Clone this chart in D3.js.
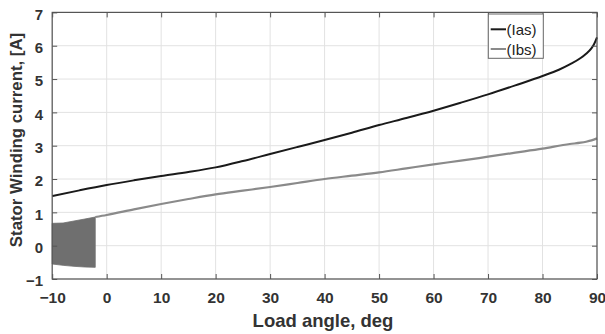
<!DOCTYPE html>
<html><head><meta charset="utf-8">
<script src="https://cdn.jsdelivr.net/npm/d3@7"></script>
<style>body{margin:0;background:#fff}svg{display:block}</style>
</head><body>
<script>
const xTicks = [-10,0,10,20,30,40,50,60,70,80,90];
const yTicks = [-1,0,1,2,3,4,5,6,7];
const seriesNames = ["(Ias)","(Ibs)"];
const iasAngle = [-10,-5,0,5,10,15,20,25,30,35,40,45,50,55,60,65,70,75,80,83,85,87,88,89,89.5,90];
const iasValue = [1.49,1.66,1.82,1.96,2.09,2.21,2.35,2.54,2.75,2.96,3.17,3.39,3.62,3.83,4.05,4.29,4.54,4.81,5.09,5.28,5.44,5.63,5.76,5.93,6.06,6.25];
const ibsAngle = [-2.1,0,5,10,15,20,25,30,35,40,45,50,55,60,65,70,75,80,85,87,88,89,90];
const ibsValue = [0.86,0.92,1.09,1.25,1.40,1.54,1.65,1.76,1.88,2.00,2.10,2.20,2.32,2.44,2.55,2.67,2.79,2.91,3.05,3.09,3.12,3.16,3.22];
const bandAngle = [-10,-8,-6,-4,-2.1];
const bandUpper = [0.67,0.68,0.74,0.80,0.86];
const bandLower = [-0.55,-0.59,-0.62,-0.64,-0.65];

const W=605,H=334;
const svg=d3.select("body").append("svg").attr("width",W).attr("height",H);
const x=d3.scaleLinear().domain([-10,90]).range([52.2,597]);
const y=d3.scaleLinear().domain([-1,7]).range([279,12.4]);
const font="Arial, 'Liberation Sans', sans-serif";

// grid
svg.append("g").selectAll("line").data(xTicks).join("line")
 .attr("x1",d=>x(d)).attr("x2",d=>x(d)).attr("y1",y(-1)).attr("y2",y(7))
 .attr("stroke","#e2e2e2").attr("stroke-width",1);
svg.append("g").selectAll("line").data(yTicks).join("line")
 .attr("y1",d=>y(d)).attr("y2",d=>y(d)).attr("x1",x(-10)).attr("x2",x(90))
 .attr("stroke","#e2e2e2").attr("stroke-width",1);

// band
const area=d3.area().x((d,i)=>x(bandAngle[i])).y0((d,i)=>y(bandLower[i])).y1((d,i)=>y(bandUpper[i]));
svg.append("path").datum(bandAngle).attr("d",area).attr("fill","#6f6f6f").attr("stroke","#6f6f6f").attr("stroke-width",0.8);

const line=d3.line().x(d=>x(d[0])).y(d=>y(d[1])).curve(d3.curveMonotoneX);
svg.append("path").datum(ibsAngle.map((a,i)=>[a,ibsValue[i]])).attr("d",line)
 .attr("fill","none").attr("stroke","#8a8a8a").attr("stroke-width",2.2);
svg.append("path").datum(iasAngle.map((a,i)=>[a,iasValue[i]])).attr("d",line)
 .attr("fill","none").attr("stroke","#1a1a1a").attr("stroke-width",2);

// axes
const ax=svg.append("g").attr("font-family",font);
const axc="#555";
ax.append("rect").attr("x",x(-10)).attr("y",y(7)).attr("width",x(90)-x(-10)).attr("height",y(-1)-y(7))
 .attr("fill","none").attr("stroke",axc).attr("stroke-width",1.2);
const tl=5;
ax.append("g").call(d3.axisBottom(x).tickValues(xTicks).tickSize(-tl).tickPadding(tl+8).tickFormat(d3.format("d")))
 .attr("transform",`translate(0,${y(-1)})`).call(g=>{g.select(".domain").remove();g.selectAll("line").attr("stroke",axc);
 g.selectAll("text").attr("font-size",15.5).attr("font-weight","bold").attr("fill","#333").attr("font-family",font);});
ax.append("g").call(d3.axisTop(x).tickValues(xTicks).tickSize(-tl).tickFormat(""))
 .attr("transform",`translate(0,${y(7)})`).call(g=>{g.select(".domain").remove();g.selectAll("line").attr("stroke",axc);});
ax.append("g").call(d3.axisLeft(y).tickValues(yTicks).tickSize(-tl).tickPadding(tl+4).tickFormat(d3.format("d")))
 .attr("transform",`translate(${x(-10)},0)`).call(g=>{g.select(".domain").remove();g.selectAll("line").attr("stroke",axc);
 g.selectAll("text").attr("font-size",15).attr("font-weight","bold").attr("fill","#333").attr("dy","0.45em").attr("font-family",font);});
ax.append("g").call(d3.axisRight(y).tickValues(yTicks).tickSize(-tl).tickFormat(""))
 .attr("transform",`translate(${x(90)},0)`).call(g=>{g.select(".domain").remove();g.selectAll("line").attr("stroke",axc);});

// labels
svg.append("text").attr("x",323).attr("y",327).attr("text-anchor","middle").attr("font-family",font)
 .attr("font-size",18.5).attr("font-weight","bold").attr("fill","#333").text("Load angle, deg");
svg.append("text").attr("transform","translate(22,140) rotate(-90)").attr("text-anchor","middle").attr("font-family",font)
 .attr("font-size",16.8).attr("font-weight","bold").attr("fill","#333").text("Stator Winding current, [A]");

// legend
const lg=svg.append("g");
lg.append("rect").attr("x",488.3).attr("y",14).attr("width",55).attr("height",44.3).attr("fill","#fff").attr("stroke","#666").attr("stroke-width",1);
const colors=["#1a1a1a","#8a8a8a"];
seriesNames.forEach((n,i)=>{
 const cy=29.3+i*19.7;
 lg.append("line").attr("x1",490.7).attr("x2",506).attr("y1",cy).attr("y2",cy).attr("stroke",colors[i]).attr("stroke-width",2);
 lg.append("text").attr("x",506.5).attr("y",cy+5.5).attr("font-family",font).attr("font-size",15).attr("fill","#222").text(n);
});
</script>
</body></html>
